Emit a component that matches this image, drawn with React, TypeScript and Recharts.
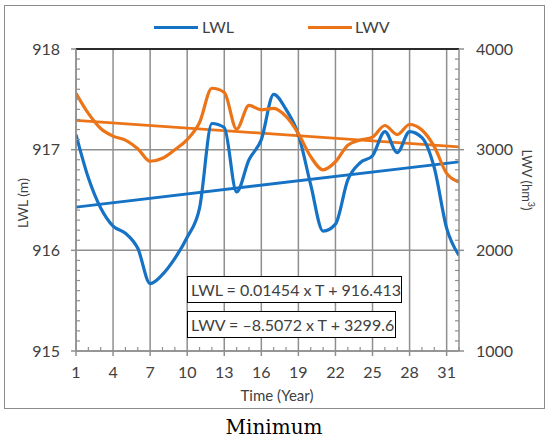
import React from 'react';
import { CartesianGrid, Line, LineChart, ReferenceLine, XAxis, YAxis } from 'recharts';

const years = [1, 2, 3, 4, 5, 6, 7, 8, 9, 10, 11, 12, 13, 14, 15, 16, 17, 18, 19, 20, 21, 22, 23, 24, 25, 26, 27, 28, 29, 30, 31, 32];

// minimum lake water level (m)
const lwl = [
  917.15, 916.72, 916.42, 916.24, 916.17, 916.02, 915.67, 915.76, 915.92, 916.13, 916.42, 917.26, 917.22, 916.58, 916.9, 917.1,
  917.55, 917.4, 917.15, 916.65, 916.19, 916.26, 916.7, 916.87, 916.94, 917.18, 916.97, 917.18, 917.12, 916.82, 916.22, 915.95,
];

// minimum lake water volume (hm3)
const lwv = [
  3560, 3360, 3210, 3135, 3095, 3010, 2885, 2915, 3000, 3100, 3270, 3610, 3570, 3205, 3440, 3395,
  3410, 3330, 3160, 2930, 2800, 2880, 3045, 3095, 3125, 3240, 3150, 3250, 3195, 3030, 2765, 2680,
];

const trendYears = [1, 32];
const lwlTrend = [916.43, 916.88];
const lwvTrend = [3291, 3027];

const xTicks = [1, 4, 7, 10, 13, 16, 19, 22, 25, 28, 31];
const lwlTicks = [915, 916, 917, 918];
const lwvTicks = [1000, 2000, 3000, 4000];

const lwlEquation = 'LWL = 0.01454 x T + 916.413';
const lwvEquation = 'LWV = –8.5072 x T + 3299.6';

const BLUE = '#1572c4';
const ORANGE = '#ec7418';
const GRID = '#8f8f8f';
const INK = '#404040';
const FONT = 'Lato, "Open Sans", sans-serif';

const rows = years.map((t, i) => ({ t, lwl: lwl[i], lwv: lwv[i] }));
const trendRows = trendYears.map((t, i) => ({ t, lwl: lwlTrend[i], lwv: lwvTrend[i] }));

// minor tick marks, every 0.1 m / 100 hm3 / 1 year (majors are among them)
const lwlMinor = Array.from({ length: 31 }, (_, i) => 915 + i / 10);
const lwvMinor = Array.from({ length: 31 }, (_, i) => 1000 + i * 100);

const labelProps = { fill: INK, fontSize: 16, fontFamily: FONT };

// major ticks point outward with a label, minor ticks point into the plot
function LeftTick({ x, y, payload }: any) {
  if (!lwlTicks.includes(payload.value)) {
    return <line x1={x} x2={x + 4} y1={y} y2={y} stroke={GRID} strokeWidth={1.2} />;
  }
  return (
    <g>
      <line x1={x - 5} x2={x} y1={y} y2={y} stroke={GRID} strokeWidth={1.5} />
      <text x={x - 16} y={y} dy="0.355em" textAnchor="end" {...labelProps}>
        {payload.value}
      </text>
    </g>
  );
}

function RightTick({ x, y, payload }: any) {
  if (!lwvTicks.includes(payload.value)) {
    return <line x1={x - 4} x2={x} y1={y} y2={y} stroke={GRID} strokeWidth={1.2} />;
  }
  return (
    <g>
      <line x1={x} x2={x + 5} y1={y} y2={y} stroke={GRID} strokeWidth={1.5} />
      <text x={x + 17} y={y} dy="0.355em" textAnchor="start" {...labelProps}>
        {payload.value}
      </text>
    </g>
  );
}

function BottomTick({ x, y, payload }: any) {
  if (!xTicks.includes(payload.value)) {
    return <line x1={x} x2={x} y1={y} y2={y - 4} stroke={GRID} strokeWidth={1.2} />;
  }
  return (
    <g>
      <line x1={x} x2={x} y1={y} y2={y + 5} stroke={GRID} strokeWidth={1.5} />
      <text x={x} y={y + 16} dy="0.71em" textAnchor="middle" {...labelProps}>
        {payload.value}
      </text>
    </g>
  );
}

function Equation({ top, width, text }: { top: number; width: number; text: string }) {
  return (
    <div
      style={{
        position: 'absolute',
        left: 187,
        top,
        width,
        height: 27,
        boxSizing: 'border-box',
        border: '1px solid #000',
        background: '#fff',
        fontFamily: FONT,
        fontSize: 16,
        color: INK,
        lineHeight: '25px',
        paddingLeft: 3,
        whiteSpace: 'nowrap',
      }}
    >
      {text}
    </div>
  );
}

export default function App() {
  return (
    <div style={{ position: 'absolute', left: 0, top: 0, width: 550, height: 441, background: '#fff' }}>
      <div
        style={{
          position: 'absolute',
          left: 4,
          top: 5,
          width: 541,
          height: 404,
          boxSizing: 'border-box',
          border: '1.5px solid #8c8c8c',
        }}
      />
      <LineChart
        width={550}
        height={441}
        data={rows}
        margin={{ top: 49, right: 31, left: 16, bottom: 60 }}
        style={{ position: 'absolute', left: 0, top: 0, fontFamily: FONT }}
      >
        <CartesianGrid
          yAxisId="left"
          stroke={GRID}
          strokeWidth={1.5}
          verticalValues={xTicks}
          horizontalValues={lwlTicks}
        />
        <XAxis
          dataKey="t"
          type="number"
          domain={[1, 32]}
          allowDataOverflow
          ticks={years}
          interval={0}
          height={30}
          tickSize={0}
          tickMargin={0}
          tick={BottomTick}
          tickLine={false}
          axisLine={{ stroke: GRID, strokeWidth: 1.5 }}
        />
        <YAxis
          yAxisId="left"
          domain={[915, 918]}
          allowDataOverflow
          ticks={lwlMinor}
          interval={0}
          width={60}
          tickSize={0}
          tickMargin={0}
          tick={LeftTick}
          tickLine={false}
          axisLine={{ stroke: GRID, strokeWidth: 1.5 }}
        />
        <YAxis
          yAxisId="right"
          orientation="right"
          domain={[1000, 4000]}
          allowDataOverflow
          ticks={lwvMinor}
          interval={0}
          width={60}
          tickSize={0}
          tickMargin={0}
          tick={RightTick}
          tickLine={false}
          axisLine={{ stroke: GRID, strokeWidth: 1.5 }}
        />
        <ReferenceLine yAxisId="left" y={918} stroke="#000" strokeWidth={1.5} />
        <Line
          yAxisId="left"
          data={trendRows}
          dataKey="lwl"
          type="linear"
          stroke={BLUE}
          strokeWidth={2.75}
          dot={false}
          isAnimationActive={false}
        />
        <Line
          yAxisId="right"
          data={trendRows}
          dataKey="lwv"
          type="linear"
          stroke={ORANGE}
          strokeWidth={2.75}
          dot={false}
          isAnimationActive={false}
        />
        <Line
          yAxisId="left"
          dataKey="lwl"
          type="monotone"
          stroke={BLUE}
          strokeWidth={3.2}
          dot={false}
          isAnimationActive={false}
        />
        <Line
          yAxisId="right"
          dataKey="lwv"
          type="monotone"
          stroke={ORANGE}
          strokeWidth={3.2}
          dot={false}
          isAnimationActive={false}
        />
      </LineChart>

      {/* legend */}
      <div style={{ position: 'absolute', left: 154, top: 25.5, width: 44, height: 3, background: BLUE }} />
      <div style={{ position: 'absolute', left: 202, top: 17, fontFamily: FONT, fontSize: 16, color: INK, lineHeight: '20px' }}>
        LWL
      </div>
      <div style={{ position: 'absolute', left: 308, top: 25.5, width: 44, height: 3, background: ORANGE }} />
      <div style={{ position: 'absolute', left: 355, top: 17, fontFamily: FONT, fontSize: 16, color: INK, lineHeight: '20px' }}>
        LWV
      </div>

      <Equation top={276} width={215} text={lwlEquation} />
      <Equation top={311} width={209} text={lwvEquation} />

      {/* axis titles */}
      <div
        style={{
          position: 'absolute',
          left: 22,
          top: 203,
          transform: 'translate(-50%, -50%) rotate(-90deg)',
          fontFamily: FONT,
          fontSize: 14,
          color: INK,
          whiteSpace: 'nowrap',
        }}
      >
        LWL (m)
      </div>
      <div
        style={{
          position: 'absolute',
          left: 528,
          top: 180,
          transform: 'translate(-50%, -50%) rotate(90deg)',
          fontFamily: FONT,
          fontSize: 13,
          color: INK,
          whiteSpace: 'nowrap',
        }}
      >
        LWV (hm<sup style={{ fontSize: 9 }}>3</sup>)
      </div>
      <div
        style={{
          position: 'absolute',
          left: 277,
          top: 395,
          transform: 'translate(-50%, -50%)',
          fontFamily: FONT,
          fontSize: 15,
          color: INK,
          whiteSpace: 'nowrap',
        }}
      >
        Time (Year)
      </div>

      <div
        style={{
          position: 'absolute',
          left: 274,
          top: 427,
          transform: 'translate(-50%, -50%)',
          fontFamily: '"DejaVu Serif", serif',
          fontSize: 20,
          color: '#000',
          whiteSpace: 'nowrap',
        }}
      >
        Minimum
      </div>
    </div>
  );
}
